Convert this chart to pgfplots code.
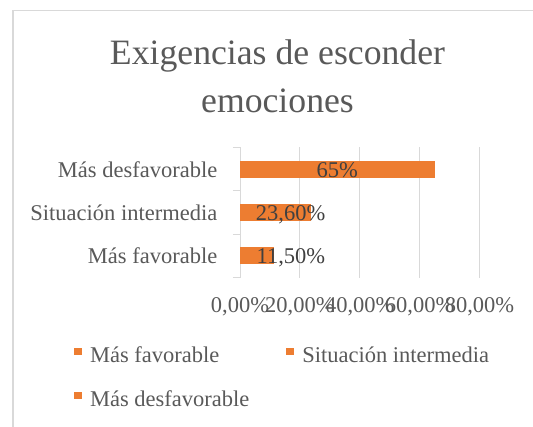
\documentclass[border=0pt]{standalone}
\usepackage{pgfplots}
\pgfplotsset{compat=1.18}
\usepackage{fontspec}
\setmainfont{Liberation Serif}
\definecolor{txt}{HTML}{595959}
\definecolor{lbl}{HTML}{404040}
\definecolor{barc}{HTML}{ED7D31}
\definecolor{grd}{HTML}{D9D9D9}
\begin{document}
\begin{tikzpicture}[x=1pt,y=1pt]
\useasboundingbox (0,0) rectangle (533,427);
\begin{scope}
\clip (0,0) rectangle (533,427);
\draw[grd, line width=1.5pt] (12.75,-5) -- (12.75,416.25) -- (540,416.25);
\end{scope}
\node[anchor=base, text=txt, font=\fontsize{35.7}{40}\selectfont, inner sep=0pt] at (277.5,362.4) {Exigencias de esconder};
\node[anchor=base, text=txt, font=\fontsize{35.7}{40}\selectfont, inner sep=0pt] at (277.5,314.8) {emociones};
\begin{axis}[
  at={(240pt,171pt)}, anchor=origin,
  scale only axis, width=239.5pt, height=130.2pt,
  xbar, bar width=17pt, bar shift=0pt,
  xmin=0, xmax=80, ymin=-0.5, ymax=2.5,
  axis line style={draw=none},
  xtick={0,20,40,60,80},
  xticklabels={{0,00\%},{20,00\%},{40,00\%},{60,00\%},{80,00\%}},
  xmajorgrids, major grid style={grd, line width=1pt},
  ytick={0,1,2},
  yticklabels={{Más favorable},{Situación intermedia},{Más desfavorable\hspace{4pt}}},
  minor ytick={-0.5,0.5,1.5,2.5},
  major tick length=0pt, minor tick length=7pt,
  tick align=outside, ytick pos=left, xtick pos=bottom,
  tick style={grd, line width=1pt},
  xticklabel style={anchor=base, inner sep=0pt, yshift=-34.4pt, text=txt, font=\fontsize{22.5}{26}\selectfont},
  yticklabel style={anchor=base east, inner sep=0pt, xshift=-22.5pt, yshift=-7.9pt, text=txt, font=\fontsize{22.5}{26}\selectfont},
  legend columns=2,
  legend cell align=left,
  legend style={at={(-0.693,-0.532)}, anchor=north west, draw=none, fill=none,
    inner sep=0pt, outer sep=0pt, text=txt, font=\fontsize{22.5}{26}\selectfont,
    row sep=23pt,
    nodes={inner sep=0pt, text height=16pt, text depth=5pt},
    /tikz/every odd column/.style={column sep=8pt},
    /tikz/every even column/.style={column sep=37pt}},
  legend image code/.code={\fill[#1] (0pt,2.25pt) rectangle (8pt,9.75pt);},
]
\addplot[fill=barc, draw=none] coordinates {(11.5,0)};
\addlegendentry{Más favorable}
\addplot[fill=barc, draw=none] coordinates {(23.6,1)};
\addlegendentry{Situación intermedia}
\addplot[fill=barc, draw=none] coordinates {(65,2)};
\addlegendentry{Más desfavorable}
\node[anchor=base, inner sep=0pt, yshift=-7.9pt, text=lbl, font=\fontsize{22.5}{26}\selectfont] at (axis cs:32.5,2) {65\%};
\node[anchor=base, inner sep=0pt, yshift=-7.9pt, text=lbl, font=\fontsize{22.5}{26}\selectfont] at (axis cs:16.9,1) {23,60\%};
\node[anchor=base, inner sep=0pt, yshift=-7.9pt, text=lbl, font=\fontsize{22.5}{26}\selectfont] at (axis cs:17.0,0) {11,50\%};
\end{axis}
\end{tikzpicture}
\end{document}
